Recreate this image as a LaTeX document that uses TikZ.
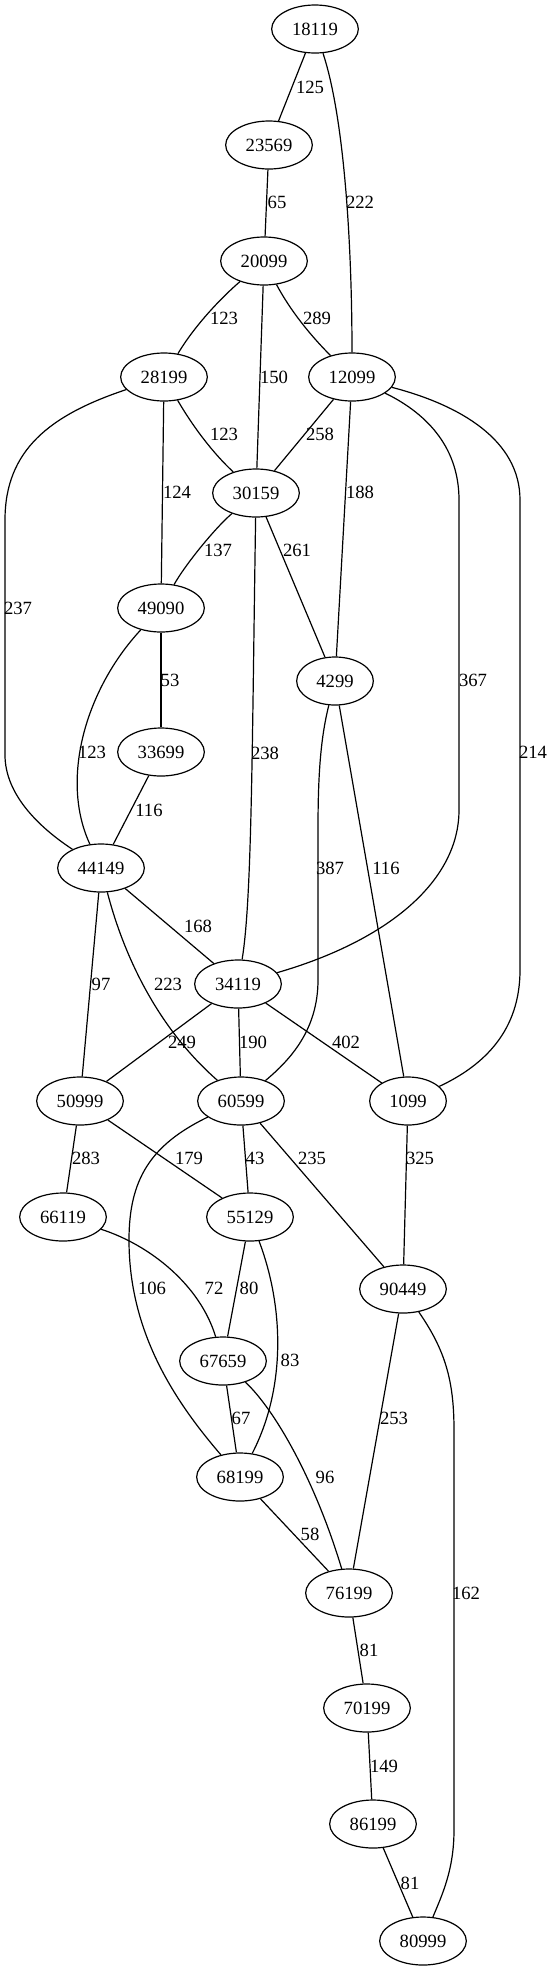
\documentclass[tikz,border=0pt]{standalone}
\usepackage{fontspec}
\setmainfont{Liberation Serif}
\usetikzlibrary{shapes.geometric}
\begin{document}
\begin{tikzpicture}[x=0.75pt,y=-0.75pt,
  every path/.style={line width=0.9pt},
  nd/.style={draw,ellipse,inner sep=0pt,minimum width=65pt,minimum height=36pt,font=\fontsize{14pt}{16pt}\selectfont},
  nds/.style={nd,minimum width=57.5pt},
  lab/.style={inner sep=0pt,font=\fontsize{14pt}{16pt}\selectfont}]
\useasboundingbox (0,0) rectangle (553,1971);
% nodes
\node[nd] (n18119) at (315,29) {18119};
\node[nd] (n23569) at (269,145) {23569};
\node[nd] (n20099) at (264,261) {20099};
\node[nd] (n28199) at (164,377) {28199};
\node[nd] (n12099) at (352,377) {12099};
\node[nd] (n30159) at (256,493) {30159};
\node[nd] (n49090) at (161,608) {49090};
\node[nds] (n4299) at (335,681) {4299};
\node[nd] (n33699) at (161,752) {33699};
\node[nd] (n44149) at (101,868) {44149};
\node[nd] (n34119) at (238,984) {34119};
\node[nd] (n50999) at (80,1101) {50999};
\node[nd] (n60599) at (241,1101) {60599};
\node[nds] (n1099) at (408,1101) {1099};
\node[nd] (n66119) at (63,1217) {66119};
\node[nd] (n55129) at (250,1217) {55129};
\node[nd] (n90449) at (403,1289) {90449};
\node[nd] (n67659) at (223,1361) {67659};
\node[nd] (n68199) at (240,1477) {68199};
\node[nd] (n76199) at (349,1593) {76199};
\node[nd] (n70199) at (367,1708) {70199};
\node[nd] (n86199) at (373,1824) {86199};
\node[nd] (n80999) at (423,1941) {80999};
% waypoints
\coordinate (w1a) at (5,520);
\coordinate (w1b) at (5,755);
\coordinate (w2a) at (459,500);
\coordinate (w2b) at (459,810);
\coordinate (w3a) at (520,500);
\coordinate (w3b) at (520,970);
\coordinate (w4a) at (318,830);
\coordinate (w4b) at (318,980);
\coordinate (w5a) at (129,1240);
\coordinate (w6a) at (454,1430);
\coordinate (w6b) at (454,1830);
% edges
\draw (n18119) -- (n23569);
\draw (n18119) .. controls (345,120) and (352,250) .. (n12099);
\draw (n23569) -- (n20099);
\draw (n20099) .. controls (222,297) and (195,325) .. (n28199);
\draw (n20099) -- (n30159);
\draw (n20099) .. controls (290,310) and (310,335) .. (n12099);
\draw (n28199) .. controls (195,430) and (215,455) .. (n30159);
\draw (n28199) -- (n49090);
\draw (n28199) .. controls (50,415) and (5,450) .. (w1a) -- (w1b) .. controls (5,795) and (40,828) .. (n44149);
\draw (n12099) -- (n30159);
\draw (n12099) -- (n4299);
\draw (n12099) .. controls (430,415) and (459,450) .. (w2a) -- (w2b) .. controls (459,880) and (390,940) .. (n34119);
\draw (n12099) .. controls (460,405) and (520,440) .. (w3a) -- (w3b) .. controls (520,1030) and (485,1065) .. (n1099);
\draw (n30159) .. controls (215,528) and (185,565) .. (n49090);
\draw (n30159) -- (n4299);
\draw (n30159) .. controls (252,750) and (252,900) .. (n34119);
\draw (n49090) -- (n33699);
\draw (n49090) .. controls (85,690) and (60,780) .. (n44149);
\draw (n33699) -- (n44149);
\draw (n4299) .. controls (320,740) and (318,780) .. (w4a) -- (w4b) .. controls (318,1030) and (290,1060) .. (n60599);
\draw (n4299) -- (n1099);
\draw (n44149) -- (n34119);
\draw (n44149) -- (n50999);
\draw (n44149) .. controls (125,960) and (160,1030) .. (n60599);
\draw (n34119) -- (n50999);
\draw (n34119) -- (n60599);
\draw (n34119) -- (n1099);
\draw (n50999) -- (n66119);
\draw (n50999) -- (n55129);
\draw (n60599) -- (n55129);
\draw (n60599) -- (n90449);
\draw (n1099) -- (n90449);
\draw (n60599) .. controls (150,1145) and (129,1180) .. (w5a) .. controls (129,1330) and (172,1398) .. (n68199);
\draw (n66119) .. controls (150,1245) and (200,1285) .. (n67659);
\draw (n55129) -- (n67659);
\draw (n55129) .. controls (285,1310) and (285,1390) .. (n68199);
\draw (n67659) -- (n68199);
\draw (n67659) .. controls (275,1410) and (315,1480) .. (n76199);
\draw (n90449) -- (n76199);
\draw (n90449) .. controls (445,1350) and (454,1380) .. (w6a) -- (w6b) .. controls (454,1870) and (442,1895) .. (n80999);
\draw (n68199) -- (n76199);
\draw (n76199) -- (n70199);
\draw (n70199) -- (n86199);
\draw (n86199) -- (n80999);
% labels
\node[lab] (l01) at (310,87) {125};
\node[lab] (l02) at (360,202) {222};
\node[lab] (l03) at (277,202) {65};
\node[lab] (l04) at (224,318) {123};
\node[lab] (l05) at (317,318) {289};
\node[lab] (l06) at (274,377) {150};
\node[lab] (l07) at (224,434) {123};
\node[lab] (l08) at (320,434) {258};
\node[lab] (l09) at (177,492) {124};
\node[lab] (l10) at (360,492) {188};
\node[lab] (l11) at (18,608) {237};
\node[lab] (l12) at (473,680) {367};
\node[lab] (l13) at (533,752) {214};
\node[lab] (l14) at (218,550) {137};
\node[lab] (l15) at (297,550) {261};
\node[lab] (l16) at (265,753) {238};
\node[lab] (l17) at (170,680) {53};
\node[lab] (l18) at (92,752) {123};
\node[lab] (l19) at (149,810) {116};
\node[lab] (l20) at (330,868) {387};
\node[lab] (l21) at (386,868) {116};
\node[lab] (l22) at (198,926) {168};
\node[lab] (l23) at (101,984) {97};
\node[lab] (l24) at (168,984) {223};
\node[lab] (l25) at (182,1042) {249};
\node[lab] (l26) at (253,1042) {190};
\node[lab] (l27) at (346,1042) {402};
\node[lab] (l28) at (86,1158) {283};
\node[lab] (l29) at (189,1158) {179};
\node[lab] (l30) at (255,1158) {43};
\node[lab] (l31) at (312,1158) {235};
\node[lab] (l32) at (420,1158) {325};
\node[lab] (l33) at (152,1288) {106};
\node[lab] (l34) at (214,1288) {72};
\node[lab] (l35) at (249,1288) {80};
\node[lab] (l36) at (290,1360) {83};
\node[lab] (l37) at (241,1418) {67};
\node[lab] (l38) at (325,1477) {96};
\node[lab] (l39) at (394,1418) {253};
\node[lab] (l40) at (466,1593) {162};
\node[lab] (l41) at (310,1534) {58};
\node[lab] (l42) at (369,1650) {81};
\node[lab] (l43) at (384,1766) {149};
\node[lab] (l44) at (410,1883) {81};
\end{tikzpicture}
\end{document}
